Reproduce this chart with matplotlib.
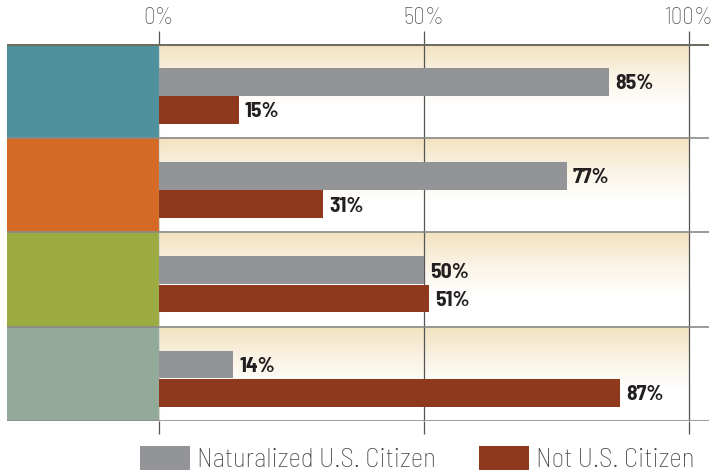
import numpy as np
import matplotlib.pyplot as plt
from matplotlib.patches import Patch
from matplotlib.colors import LinearSegmentedColormap

plt.rcParams['font.family'] = ['Barlow Semi Condensed', 'DejaVu Sans']

# four groups, shown only as coloured blocks on the left
group_colors = ["#4e909c", "#d56a27", "#9dac42", "#93aa9a"]
naturalized = [85, 77, 50, 14]
not_citizen = [15, 31, 51, 87]
series_names = ["Naturalized U.S. Citizen", "Not U.S. Citizen"]
tick_vals = [0, 50, 100]
tick_labels = ["0%", "50%", "100%"]

gray = "#939497"
red = "#8e381d"

W, H = 715, 473
fig = plt.figure(figsize=(W / 100, H / 100), dpi=100)
ax = fig.add_axes([7 / W, 52 / H, 702 / W, 377 / H])

x0 = -28.7
x1 = 103.8
ax.set_xlim(x0, x1)
ax.set_ylim(4, 0)

n = len(naturalized)
rows = np.arange(n)

# soft cream band at the top of each row
cmap = LinearSegmentedColormap.from_list("band", ["#f2e2bf", "#faf3e4", "#ffffff", "#ffffff"])
grad = np.linspace(0, 1, 100).reshape(-1, 1)
for i in rows:
    ax.imshow(grad, cmap=cmap, aspect="auto", extent=[0, 100, i + 1, i],
              interpolation="bilinear", zorder=0)

# coloured blocks
ax.barh(rows + 0.5, -x0, left=x0, height=1, color=group_colors, zorder=1)

bh = 0.295
ax.barh(rows + 0.40, naturalized, height=bh, color=gray, zorder=3)
ax.barh(rows + 0.70, not_citizen, height=bh, color=red, zorder=3)

for i in rows:
    ax.text(naturalized[i] + 1.1, i + 0.42, f"{naturalized[i]}%", va="center", ha="left",
            fontsize=15.5, fontweight="bold", color="#231f20", zorder=4)
    ax.text(not_citizen[i] + 1.1, i + 0.72, f"{not_citizen[i]}%", va="center", ha="left",
            fontsize=15.5, fontweight="bold", color="#231f20", zorder=4)

# grid
for v in tick_vals[1:]:
    ax.axvline(v, color="#555555", lw=0.9, zorder=2)
ax.axvline(0, color="#d8d8d0", lw=0.8, zorder=2)
for y in range(1, n + 1):
    ax.axhline(y, color="#8a8a8a", lw=1.2, zorder=2)
ax.axhline(0, color="#6f6c60", lw=2.2, zorder=2)

for s in ax.spines.values():
    s.set_visible(False)
ax.set_yticks([])
ax.set_xticks(tick_vals)
ax.set_xticklabels(tick_labels, fontweight="light")
ax.tick_params(axis="x", which="both", top=True, bottom=True, labeltop=True, labelbottom=False,
               length=9.5, width=0.9, color="#555555", labelsize=16.5, labelcolor="#555555", pad=1)

handles = [Patch(facecolor=gray), Patch(facecolor=red)]
fig.legend(handles, series_names, loc="upper left", bbox_to_anchor=(140 / W, 1 - 446 / H),
           ncol=2, frameon=False, handlelength=1.85, handleheight=1.0,
           handletextpad=0.25, columnspacing=1.6, borderpad=0, borderaxespad=0,
           labelcolor="#444444", prop={"size": 19.5, "weight": "light"})

fig.savefig("out.png", dpi=100)
